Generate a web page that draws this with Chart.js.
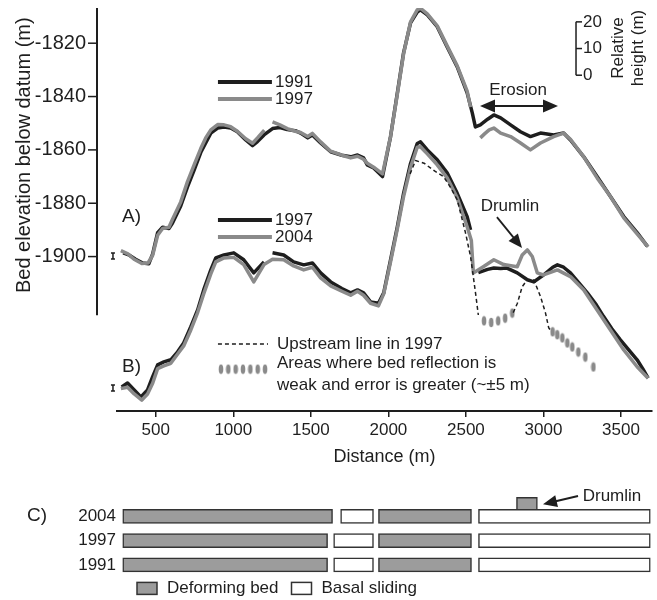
<!DOCTYPE html>
<html>
<head>
<meta charset="utf-8">
<script src="https://cdn.jsdelivr.net/npm/chart.js@4.4.0/dist/chart.umd.min.js"></script>
<style>
  body { margin: 0; background: #fff; }
  #wrap { position: relative; width: 657px; height: 600px; }
  canvas { position: absolute; left: 0; }
  #profiles { top: 0; }
  #modes { top: 480px; }
</style>
</head>
<body>
<div id="wrap">
  <canvas id="profiles" width="657" height="480"></canvas>
  <canvas id="modes" width="657" height="120"></canvas>
</div>
<script>
// axis ticks
const xTicks = [500, 1000, 1500, 2000, 2500, 3000, 3500];
const yTicks = [-1900, -1880, -1860, -1840, -1820];
const scaleBarTicks = [0, 10, 20];

// A) 1991 profile
const a1991Dist = [290, 330, 370, 416, 455, 480, 512, 544, 585, 608, 661, 704, 748, 790, 822, 855, 899, 940, 983, 1026, 1080, 1124, 1156, 1198, 1253, 1300, 1348, 1400, 1434, 1480, 1510, 1563, 1628, 1700, 1757, 1801, 1840, 1864, 1905, 1962, 2014, 2058, 2098, 2143, 2186, 2207, 2251, 2315, 2379, 2444, 2508, 2541, 2561, 2593, 2640, 2680, 2724, 2788, 2852, 2916, 2981, 3066, 3130, 3174, 3260, 3346, 3432, 3518, 3604, 3668];
const a1991Elev = [-1898.6, -1899.5, -1901, -1902.4, -1902.7, -1899, -1891, -1889, -1889.5, -1887.4, -1881, -1874, -1867.5, -1861, -1857.4, -1853.7, -1851.8, -1851.4, -1851.8, -1853.2, -1856.3, -1858.4, -1856.9, -1854.4, -1852, -1851.6, -1852.4, -1852.8, -1853.7, -1855.5, -1854.4, -1857.4, -1860.7, -1862, -1862.6, -1861.9, -1863, -1865.6, -1866.8, -1870, -1855, -1838.6, -1823.6, -1812.4, -1808.3, -1807.5, -1809.4, -1813.8, -1821.4, -1828.9, -1838.6, -1846.1, -1851.4, -1850.6, -1848.5, -1846.9, -1848, -1850.6, -1853.2, -1855, -1853.7, -1854.4, -1853.7, -1856.3, -1862.6, -1870, -1877.5, -1885, -1891, -1896];

// A) 1997 profile
const a1997Dist = [275, 320, 360, 410, 450, 480, 512, 544, 585, 608, 661, 704, 748, 790, 822, 855, 899, 940, 983, 1026, 1080, 1124, 1156, 1200, 1225, 1253, 1300, 1348, 1400, 1434, 1480, 1510, 1563, 1628, 1700, 1757, 1801, 1840, 1864, 1905, 1962, 2014, 2058, 2098, 2143, 2186, 2207, 2251, 2315, 2379, 2444, 2508, 2530, 2560, 2593, 2620, 2650, 2680, 2724, 2788, 2852, 2916, 2981, 3066, 3130, 3174, 3260, 3346, 3432, 3518, 3604, 3675];
const a1997Elev = [-1897.8, -1899, -1901, -1902.6, -1902.4, -1899.5, -1892, -1889.5, -1889, -1886, -1879.5, -1872, -1865.5, -1859.5, -1855.5, -1852.5, -1850.5, -1850.6, -1851.3, -1853, -1855.8, -1857.5, -1855.5, -1852.6, null, -1849.5, -1850.6, -1852, -1853, -1853.5, -1855, -1853.8, -1857, -1860.5, -1862, -1863, -1862.4, -1863.5, -1865, -1866.5, -1869, -1855, -1839, -1824, -1812, -1807.5, -1806.9, -1809, -1813.5, -1821, -1828.5, -1838, -1844, null, -1855.5, -1854, -1852.5, -1851.8, -1853.7, -1855, -1857.4, -1860, -1857.4, -1855, -1853.7, -1856, -1862.6, -1870.5, -1877.5, -1885.5, -1891.5, -1896.4];

// B) 1997 profile (drawn lower on the same axis)
const b1997Dist = [280, 318, 361, 404, 447, 480, 512, 552, 597, 641, 680, 726, 770, 809, 855, 887, 940, 1003, 1067, 1132, 1198, 1225, 1253, 1325, 1389, 1454, 1510, 1563, 1628, 1700, 1757, 1801, 1840, 1885, 1936, 1970, 2014, 2058, 2098, 2143, 2186, 2207, 2251, 2315, 2379, 2444, 2508, 2530, 2555, 2580, 2640, 2680, 2724, 2765, 2831, 2896, 2938, 3000, 3060, 3090, 3130, 3174, 3230, 3283, 3340, 3387, 3440, 3496, 3550, 3604, 3640, 3675];
const b1997Elev = [-1948.9, -1947.4, -1950, -1952.6, -1950, -1945, -1940.6, -1939.5, -1938.7, -1935.7, -1932.4, -1926.3, -1920, -1912.5, -1905, -1900.5, -1899.4, -1898.6, -1901.2, -1906.1, -1902, null, -1898.6, -1899.4, -1902, -1903.1, -1902.4, -1906.1, -1909.5, -1912, -1913.6, -1912.5, -1913.6, -1917, -1917.5, -1913.6, -1901.2, -1888.8, -1876.3, -1865.1, -1857.6, -1857, -1860, -1863.7, -1868.6, -1876.3, -1885, -1890, null, -1906, -1904.8, -1904.3, -1904.5, -1904.3, -1906.1, -1908.7, -1909.5, -1906.9, -1904, -1903.1, -1904, -1906.1, -1910, -1913.6, -1918, -1922.4, -1927, -1931.2, -1935, -1938.7, -1942, -1945.6];

// B) 2004 profile
const b2004Dist = [275, 318, 361, 410, 447, 480, 512, 552, 597, 641, 680, 726, 770, 809, 855, 887, 940, 1003, 1067, 1132, 1198, 1253, 1325, 1389, 1454, 1510, 1563, 1628, 1700, 1757, 1801, 1840, 1885, 1936, 1970, 2014, 2058, 2098, 2143, 2186, 2207, 2251, 2315, 2379, 2444, 2508, 2535, 2548, 2561, 2612, 2680, 2744, 2800, 2831, 2863, 2896, 2928, 2960, 3000, 3090, 3174, 3260, 3346, 3432, 3518, 3604, 3675];
const b2004Elev = [-1949.5, -1949, -1951.5, -1953.8, -1951.5, -1947.5, -1942, -1941, -1940, -1936.5, -1933.5, -1927.5, -1921, -1914, -1906.5, -1902, -1900.5, -1900.3, -1903, -1909.5, -1903, -1901, -1901.2, -1903.5, -1905, -1904, -1908, -1911, -1913, -1914.5, -1913, -1914.5, -1917.5, -1918.5, -1914, -1902, -1889.5, -1877.5, -1866.5, -1859, -1858.8, -1861.5, -1865.6, -1870.5, -1878, -1888.8, -1894, -1906.1, -1905.7, -1903.8, -1901.2, -1903, -1903.5, -1903.8, -1899.4, -1897.5, -1900, -1906.1, -1906.9, -1905, -1907.5, -1912.5, -1920, -1927.5, -1935, -1941.3, -1945.6];

// upstream line in 1997 (dashed) and its weak-reflection stretches
const upstreamDist = [2140, 2175, 2230, 2300, 2356, 2400, 2444, 2497, 2530, 2548, 2565, 2580, 2600, 2805, 2832, 2863, 2896, 2938, 2981, 3013, 3034, 3050];
const upstreamElev = [-1869, -1864, -1865, -1868, -1870, -1874, -1878.7, -1891, -1900, -1907.6, -1915, -1921.9, null, -1921, -1917.5, -1911.3, -1908.7, -1908.7, -1915, -1921.1, -1926.7, -1928];
const weakDist = [2617, 2663, 2708, 2753, 2799, 3059, 3089, 3122, 3154, 3186, 3225, 3270, 3322];
const weakElev = [-1924.1, -1924.7, -1924.1, -1923.1, -1921.2, -1928.2, -1929.3, -1930.5, -1932.4, -1933.9, -1935.8, -1937.7, -1941.4];

// C) bed state along the profile
const rowYears = ['1991', '1997', '2004'];
const deformingYear = ['2004', '2004', '1997', '1997', '1991', '1991'];
const deformingFrom = [287, 1936, 287, 1936, 287, 1936];
const deformingTo = [1640, 2536, 1608, 2536, 1608, 2536];
const slidingYear = ['2004', '2004', '1997', '1997', '1991', '1991'];
const slidingFrom = [1692, 2581, 1647, 2581, 1647, 2581];
const slidingTo = [1904, 3689, 1904, 3689, 1904, 3689];
const drumlinRange = [2826, 2961];

const ink = '#1e1e1e';
const grey = '#8a8a8a';
const barGrey = '#9c9c9c';
const fam = '"Liberation Sans", Arial, Helvetica, sans-serif';

function pts(xs, ys) {
    return xs.map((x, i) => ({ x: x, y: ys[i] }));
}

function ovalMark() {
    const c = document.createElement('canvas');
    c.width = 6;
    c.height = 11;
    const g = c.getContext('2d');
    g.fillStyle = grey;
    g.beginPath();
    g.ellipse(3, 5.5, 2.3, 4.7, 0, 0, Math.PI * 2);
    g.fill();
    return c;
}
const oval = ovalMark();

function arrowHead(ctx, x1, y1, x2, y2, len, half) {
    const a = Math.atan2(y2 - y1, x2 - x1);
    const bx = x2 - len * Math.cos(a), by = y2 - len * Math.sin(a);
    ctx.beginPath();
    ctx.moveTo(x2, y2);
    ctx.lineTo(bx + half * Math.sin(a), by - half * Math.cos(a));
    ctx.lineTo(bx - half * Math.sin(a), by + half * Math.cos(a));
    ctx.closePath();
    ctx.fill();
}

function arrow(ctx, x1, y1, x2, y2, len, half) {
    const a = Math.atan2(y2 - y1, x2 - x1);
    ctx.beginPath();
    ctx.moveTo(x1, y1);
    ctx.lineTo(x2 - len * 0.7 * Math.cos(a), y2 - len * 0.7 * Math.sin(a));
    ctx.stroke();
    arrowHead(ctx, x1, y1, x2, y2, len, half);
}

const profileDecor = {
    id: 'profileDecor',
    afterDraw(chart) {
        const ctx = chart.ctx;
        const area = chart.chartArea;
        const X = v => chart.scales.x.getPixelForValue(v);
        const Y = v => chart.scales.y.getPixelForValue(v);
        const ds = chart.data.datasets;
        ctx.save();
        ctx.strokeStyle = ink;
        ctx.fillStyle = ink;

        // detached y axis
        const ax = area.left - 20;
        ctx.lineWidth = 2;
        ctx.beginPath();
        ctx.moveTo(ax, area.top);
        ctx.lineTo(ax, Y(-1922));
        ctx.stroke();
        ctx.lineWidth = 1.5;
        ctx.font = '20px ' + fam;
        ctx.textAlign = 'right';
        ctx.textBaseline = 'middle';
        for (const t of yTicks) {
            ctx.beginPath();
            ctx.moveTo(ax - 9, Y(t));
            ctx.lineTo(ax, Y(t));
            ctx.stroke();
            ctx.fillText(String(t), ax - 11, Y(t));
        }
        ctx.save();
        ctx.translate(24, Y(-1862));
        ctx.rotate(-Math.PI / 2);
        ctx.textAlign = 'center';
        ctx.fillText('Bed elevation below datum (m)', 0, 0);
        ctx.restore();

        // small error bars at the start of each profile
        ctx.lineWidth = 1.5;
        for (const v of [-1899.8, -1949.3]) {
            const x = X(224), y = Y(v);
            ctx.beginPath();
            ctx.moveTo(x, y - 3); ctx.lineTo(x, y + 3);
            ctx.moveTo(x - 2, y - 3); ctx.lineTo(x + 2, y - 3);
            ctx.moveTo(x - 2, y + 3); ctx.lineTo(x + 2, y + 3);
            ctx.stroke();
        }

        // panel letters
        ctx.font = '19px ' + fam;
        ctx.textAlign = 'left';
        ctx.fillText('A)', X(282), Y(-1885.2));
        ctx.fillText('B)', X(282), Y(-1941.4));

        // legends for A and B
        ctx.font = '17px ' + fam;
        const legendRows = [[ds[3], -1834.5], [ds[2], -1840.9], [ds[1], -1886.3], [ds[0], -1892.7]];
        ctx.lineWidth = 4;
        for (const [d, v] of legendRows) {
            ctx.strokeStyle = d.borderColor;
            ctx.beginPath();
            ctx.moveTo(X(901), Y(v));
            ctx.lineTo(X(1249), Y(v));
            ctx.stroke();
            ctx.fillText(d.label, X(1269), Y(v));
        }
        ctx.strokeStyle = ink;

        // erosion
        ctx.textAlign = 'center';
        ctx.fillText('Erosion', X(2836), Y(-1837.5));
        const ey = Y(-1843.5);
        ctx.lineWidth = 2;
        ctx.beginPath();
        ctx.moveTo(X(2591) + 10, ey);
        ctx.lineTo(X(3094) - 10, ey);
        ctx.stroke();
        arrowHead(ctx, X(3094), ey, X(2591), ey, 15, 6.5);
        arrowHead(ctx, X(2591), ey, X(3094), ey, 15, 6.5);

        // drumlin
        ctx.fillText('Drumlin', X(2784), Y(-1881));
        ctx.lineWidth = 1.8;
        arrow(ctx, X(2700), Y(-1885.2), X(2862), Y(-1896.8), 14, 6);

        // relative height scale bar
        const sx = X(3210);
        ctx.lineWidth = 1.5;
        ctx.beginPath();
        ctx.moveTo(sx, Y(-1832));
        ctx.lineTo(sx, Y(-1812));
        ctx.stroke();
        ctx.textAlign = 'left';
        for (const t of scaleBarTicks) {
            const y = Y(-1832 + t);
            ctx.beginPath();
            ctx.moveTo(sx, y);
            ctx.lineTo(sx + 6, y);
            ctx.stroke();
            ctx.fillText(String(t), X(3255), y);
        }
        ctx.save();
        ctx.textAlign = 'center';
        ctx.translate(X(3481), Y(-1821.8));
        ctx.rotate(-Math.PI / 2);
        ctx.fillText('Relative', 0, 0);
        ctx.restore();
        ctx.save();
        ctx.textAlign = 'center';
        ctx.translate(X(3610), Y(-1821.8));
        ctx.rotate(-Math.PI / 2);
        ctx.fillText('height (m)', 0, 0);
        ctx.restore();

        // legend for dashed line and weak reflection
        ctx.lineWidth = 1.5;
        ctx.setLineDash([4, 3]);
        ctx.beginPath();
        ctx.moveTo(X(901), Y(-1932.8));
        ctx.lineTo(X(1224), Y(-1932.8));
        ctx.stroke();
        ctx.setLineDash([]);
        const ox0 = X(901) + 3, ox1 = X(1224) - 3, oy = Y(-1942.2);
        for (let i = 0; i < 7; i++) {
            const ox = ox0 + i * (ox1 - ox0) / 6;
            ctx.drawImage(oval, ox - oval.width / 2, oy - oval.height / 2);
        }
        ctx.fillText('Upstream line in 1997', X(1282), Y(-1932.8));
        ctx.fillText('Areas where bed reflection is', X(1282), Y(-1940));
        ctx.fillText('weak and error is greater (~\u00b15 m)', X(1282), Y(-1948.2));
        ctx.restore();
    }
};

new Chart(document.getElementById('profiles'), {
    type: 'line',
    data: {
        datasets: [
            { label: '2004', data: pts(b2004Dist, b2004Elev), borderColor: grey, borderWidth: 3.5, order: 1 },
            { label: '1997', data: pts(b1997Dist, b1997Elev), borderColor: ink, borderWidth: 3.5, order: 2 },
            { label: '1997', data: pts(a1997Dist, a1997Elev), borderColor: grey, borderWidth: 3.5, order: 1 },
            { label: '1991', data: pts(a1991Dist, a1991Elev), borderColor: ink, borderWidth: 3.5, order: 2 },
            { label: 'Upstream line in 1997', data: pts(upstreamDist, upstreamElev), borderColor: ink, borderWidth: 1.5, borderDash: [4, 3], order: 0 },
            { label: 'Weak bed reflection', data: pts(weakDist, weakElev), showLine: false, pointStyle: oval, pointRadius: 3, order: 0 }
        ]
    },
    options: {
        responsive: false,
        animation: false,
        layout: { padding: { left: 117, right: 5, top: 8, bottom: 0 } },
        plugins: { legend: { display: false }, tooltip: { enabled: false } },
        elements: {
            point: { radius: 0 },
            line: { tension: 0, borderJoinStyle: 'round', fill: false }
        },
        scales: {
            x: {
                type: 'linear',
                min: 250,
                max: 3700,
                afterBuildTicks: s => { s.ticks = xTicks.map(v => ({ value: v })); },
                afterFit: s => { s.height = 69; },
                grid: { drawOnChartArea: false, drawTicks: true, tickLength: 6, color: ink, lineWidth: 1.5 },
                border: { color: ink, width: 2 },
                ticks: { color: ink, font: { family: fam, size: 17 }, padding: 3, maxRotation: 0, autoSkip: false, callback: v => String(v) },
                title: { display: true, text: 'Distance (m)', color: ink, font: { family: fam, size: 18 }, padding: { top: 0, bottom: 12 } }
            },
            y: { type: 'linear', display: false, min: -1957.9, max: -1806.8 }
        }
    },
    plugins: [profileDecor]
});

// panel C
const rowOf = year => rowYears.indexOf(year) + 1;

const modesDecor = {
    id: 'modesDecor',
    afterDraw(chart) {
        const ctx = chart.ctx;
        const area = chart.chartArea;
        const X = v => chart.scales.x.getPixelForValue(v);
        const Y = v => chart.scales.y.getPixelForValue(v);
        const ds = chart.data.datasets;
        ctx.save();
        ctx.fillStyle = ink;
        ctx.strokeStyle = ink;
        ctx.textBaseline = 'middle';
        ctx.font = '19px ' + fam;
        ctx.textAlign = 'left';
        ctx.fillText('C)', 27, Y(rowOf('2004')) - 1);

        ctx.font = '17px ' + fam;
        ctx.textAlign = 'center';
        ctx.fillText('Drumlin', X(3442), Y(3.84));
        ctx.lineWidth = 2;
        arrow(ctx, X(3223), Y(3.84), X(2997), Y(3.5), 14, 6);

        // legend
        ctx.textAlign = 'left';
        let lx = area.left + 20;
        const ly = area.bottom + 9;
        ctx.lineWidth = 1.5;
        for (const d of [ds[0], ds[1]]) {
            ctx.fillStyle = d.backgroundColor;
            ctx.fillRect(lx, ly - 6, 20, 12);
            ctx.strokeStyle = '#333';
            ctx.strokeRect(lx, ly - 6, 20, 12);
            ctx.fillStyle = ink;
            ctx.fillText(d.label, lx + 30, ly);
            lx += 30 + ctx.measureText(d.label).width + 13;
        }
        ctx.restore();
    }
};

new Chart(document.getElementById('modes'), {
    type: 'bar',
    data: {
        datasets: [
            {
                label: 'Deforming bed',
                data: deformingFrom.map((f, i) => ({ x: [f, deformingTo[i]], y: rowOf(deformingYear[i]) })),
                backgroundColor: barGrey
            },
            {
                label: 'Basal sliding',
                data: slidingFrom.map((f, i) => ({ x: [f, slidingTo[i]], y: rowOf(slidingYear[i]) })),
                backgroundColor: '#ffffff'
            },
            {
                label: 'Drumlin',
                data: [{ x: drumlinRange, y: rowOf('2004') + 0.5 }],
                backgroundColor: barGrey
            }
        ]
    },
    options: {
        indexAxis: 'y',
        responsive: false,
        animation: false,
        layout: { padding: { left: 0, right: 5, top: 0, bottom: 20.6 } },
        plugins: { legend: { display: false }, tooltip: { enabled: false } },
        datasets: {
            bar: { grouped: false, barThickness: 14, borderColor: '#333', borderWidth: 1.5, borderSkipped: false }
        },
        scales: {
            x: { type: 'linear', display: false, min: 250, max: 3700, offset: false },
            y: {
                type: 'linear',
                offset: false,
                min: 0.4,
                max: 4.5,
                afterFit: s => { s.width = 117; s.paddingTop = 0; s.paddingBottom = 0; },
                afterBuildTicks: s => { s.ticks = rowYears.map((_, i) => ({ value: i + 1 })); },
                grid: { display: false, drawTicks: false, offset: false },
                border: { display: false },
                ticks: { padding: 1, color: ink, font: { family: fam, size: 17 }, callback: v => rowYears[v - 1] }
            }
        }
    },
    plugins: [modesDecor]
});
</script>
</body>
</html>
